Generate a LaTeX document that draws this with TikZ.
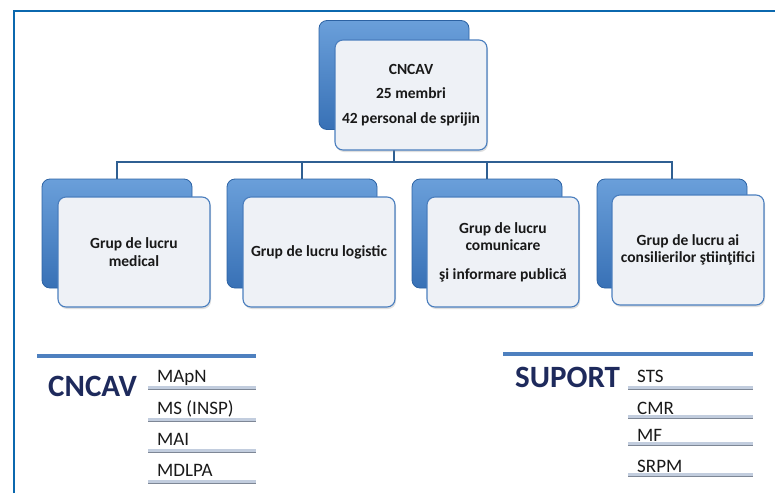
\documentclass[tikz,border=0pt]{standalone}
\usepackage{fontspec}
\setmainfont{Carlito}
\usetikzlibrary{shadows}
\definecolor{frameblue}{HTML}{0B68AE}
\definecolor{backtop}{HTML}{6A9FDA}
\definecolor{backbot}{HTML}{3871B6}
\definecolor{backdraw}{HTML}{2C62A3}
\definecolor{frontfill}{HTML}{EEF1F6}
\definecolor{frontdraw}{HTML}{4A7EBE}
\definecolor{conncol}{HTML}{2F5F92}
\definecolor{navy}{HTML}{1E2A5C}
\definecolor{rulelight}{HTML}{C2CDDE}
\definecolor{ruledark}{HTML}{7E8796}
\definecolor{ruleblue}{HTML}{4E80BF}
\tikzset{
  backbox/.style={rectangle, rounded corners=8pt, top color=backtop, bottom color=backbot,
    draw=backdraw, line width=0.8pt, minimum width=150pt, minimum height=109pt, inner sep=0pt},
  frontbox/.style={rectangle, rounded corners=8pt, fill=frontfill, draw=frontdraw, line width=1.1pt,
    minimum width=152pt, minimum height=110pt, inner sep=0pt, align=center,
    font=\fontsize{15.5}{17.5}\selectfont\bfseries, text=black!90,
    drop shadow={shadow xshift=1pt, shadow yshift=-2pt, opacity=0.25}},
  conn/.style={draw=conncol, line width=2pt},
  bigtitle/.style={anchor=base west, inner sep=0pt, font=\fontsize{31}{31}\selectfont\bfseries, text=navy},
  item/.style={anchor=base west, inner sep=0pt, font=\fontsize{19}{19}\selectfont, text=black!90},
  toprule/.style={draw=ruleblue, line width=3.5pt},
}
\newcommand{\itemrule}[3]{%
  \draw[draw=ruledark, line width=3.4pt] (#1,#3) -- (#2,#3);
  \draw[draw=rulelight, line width=2.6pt] (#1,#3-0.5) -- (#2,#3-0.5);}
\begin{document}
\begin{tikzpicture}[x=1pt,y=-1pt]
\useasboundingbox (0,0) rectangle (775,493);
% frame
\draw[draw=frameblue, line width=2.6pt] (14,493) -- (14,11) -- (775,11);

% back boxes
\node[backbox] (topback) at (394,75) {};
\node[backbox] (b1back) at (117,233.5) {};
\node[backbox] (b2back) at (302,233.5) {};
\node[backbox] (b3back) at (487,233.5) {};
\node[backbox] (b4back) at (672,233.5) {};

% connectors
\coordinate (bus) at (394,162);
\draw[conn] (topback.south) -- (bus);
\draw[conn] (bus) -| (b1back.north);
\draw[conn] (bus) -| (b2back.north);
\draw[conn] (bus) -| (b3back.north);
\draw[conn] (bus) -| (b4back.north);

% front boxes
\node[frontbox] (top) at (411,95) {CNCAV\\[7pt]25 membri\\[7pt]42 personal de sprijin};
\node[frontbox] (b1) at (134,252) {Grup de lucru\\medical};
\node[frontbox] (b2) at (319,252) {Grup de lucru logistic};
\node[frontbox] (b3) at (503,252) {Grup de lucru\\comunicare\\[11pt]şi informare publică};
\node[frontbox] (b4) at (688,250) {Grup de lucru ai\\consilierilor ştiinţifici};

% bottom left legend
\draw[toprule] (37,356) -- (256,356);
\node[bigtitle] (cncav) at (48,396) {CNCAV};
\node[item] (mapn) at (157,382) {MApN};
\node[item] (ms) at (157,414) {MS (INSP)};
\node[item] (mai) at (157,445) {MAI};
\node[item] (mdlpa) at (157,476) {MDLPA};
\itemrule{148}{256}{388}
\itemrule{148}{256}{420}
\itemrule{148}{256}{451}
\itemrule{148}{256}{482}

% bottom right legend
\draw[toprule] (503,354) -- (753,354);
\node[bigtitle] (suport) at (515,387) {SUPORT};
\node[item] (sts) at (637,382) {STS};
\node[item] (cmr) at (637,414) {CMR};
\node[item] (mf) at (637,441) {MF};
\node[item] (srpm) at (637,472) {SRPM};
\itemrule{628}{753}{388}
\itemrule{628}{753}{417}
\itemrule{628}{753}{444}
\itemrule{628}{753}{475}
\end{tikzpicture}
\end{document}
